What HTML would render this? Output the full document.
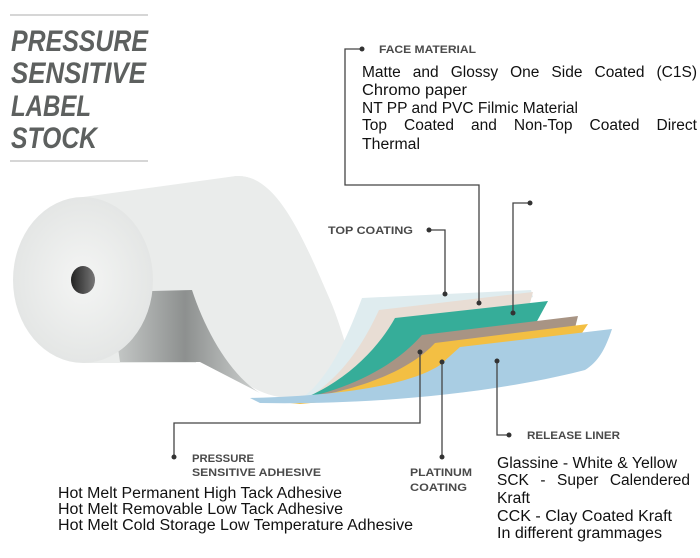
<!DOCTYPE html>
<html><head><meta charset="utf-8"><style>
html,body{margin:0;padding:0;background:#fff;}
body{position:relative;width:700px;height:558px;overflow:hidden;}
svg{display:block;position:absolute;left:0;top:0;}
text{font-family:"Liberation Sans",sans-serif;}
.t{font-size:30px;font-weight:bold;font-style:italic;fill:#5d605f;}
.l{font-size:11px;font-weight:bold;fill:#4a4a4a;}
.b{font-size:15.5px;fill:#111;}
.j{position:absolute;font-family:"Liberation Sans",sans-serif;font-size:15.5px;color:#111;text-align:justify;text-align-last:justify;white-space:nowrap;line-height:18px;}
</style></head><body>
<svg width="700" height="558" viewBox="0 0 700 558" xmlns="http://www.w3.org/2000/svg">
<defs>
<linearGradient id="sh" x1="0" y1="0" x2="1" y2="0">
<stop offset="0" stop-color="#c9cccb"/><stop offset="0.5" stop-color="#8d908f"/><stop offset="1" stop-color="#cfd2d1"/></linearGradient>
<radialGradient id="face" cx="0.5" cy="0.5" r="0.5">
<stop offset="0" stop-color="#f4f5f4"/><stop offset="1" stop-color="#e4e6e5"/></radialGradient>
<linearGradient id="hole" x1="0" y1="0" x2="1" y2="0"><stop offset="0" stop-color="#222"/><stop offset="1" stop-color="#777"/></linearGradient>
</defs>
<line x1="10" y1="15" x2="148" y2="15" stroke="#c8c8c8" stroke-width="1.5"/>
<line x1="10" y1="161" x2="148" y2="161" stroke="#c8c8c8" stroke-width="1.5"/>
<text class="t" x="11" y="51" textLength="137" lengthAdjust="spacingAndGlyphs">PRESSURE</text>
<text class="t" x="11" y="83" textLength="135" lengthAdjust="spacingAndGlyphs">SENSITIVE</text>
<text class="t" x="11" y="116" textLength="80" lengthAdjust="spacingAndGlyphs">LABEL</text>
<text class="t" x="11" y="148" textLength="86" lengthAdjust="spacingAndGlyphs">STOCK</text>
<!-- roll -->
<path d="M83,197 L236,176 C275,174 300,230 330,300 C345,335 350,370 362,390 L300,398 C260,400 230,380 200,330 L196,363 L83,363 Z" fill="#eaeceb"/>
<path d="M110,292 L192,290 C205,330 230,375 260,393 L200,362 L120,362 Z" fill="url(#sh)"/>
<path d="M236,176 C275,174 300,230 330,300 C345,335 352,375 366,392 L300,399 C262,400 235,372 212,322 C195,285 185,240 170,190 Z" fill="#eaeceb"/>
<ellipse cx="83" cy="280" rx="70" ry="83" fill="url(#face)"/>
<ellipse cx="83" cy="280" rx="12" ry="14" fill="url(#hole)"/>
<!-- layers -->
<path d="M362,298 L531,290 L533,297 C470,320 380,370 340,398 L300,399 C330,380 350,330 362,298 Z" fill="#dfecef"/>
<path d="M379,310 L533,292 L529,307 C460,330 380,375 330,399 L305,400 C345,375 365,340 379,310 Z" fill="#e8ddd4"/>
<path d="M395,318 L548,301 L536,323 C470,345 390,385 330,400 L300,400 C350,380 380,345 395,318 Z" fill="#36ad99"/>
<path d="M422,335 L578,316 L575,328 C500,350 420,388 320,402 L290,401 C360,388 400,360 422,335 Z" fill="#a89484"/>
<path d="M435,343 L588,324 L580,336 C500,360 420,395 300,404 L280,402 C360,392 410,370 435,343 Z" fill="#f3bf43"/>
<path d="M460,347 L612,329 C605,350 598,362 585,370 C500,392 380,405 260,403 L250,398 C340,396 410,385 440,365 Z" fill="#a9cde3"/>
<g stroke="#444" stroke-width="1.3" fill="none">
<polyline points="429,230 445,230 445,294"/>
<polyline points="362,49 345,49 345,185 479,185 479,303"/>
<polyline points="530,203 513,203 513,313"/>
<polyline points="420,352 420,423 174,423 174,457"/>
<polyline points="442,362 442,457"/>
<polyline points="497,361 497,435 509,435"/>
</g>
<g fill="#333">
<circle cx="429" cy="230" r="2.5"/><circle cx="445" cy="294" r="2.5"/>
<circle cx="362" cy="49" r="2.5"/><circle cx="479" cy="303" r="2.5"/>
<circle cx="530" cy="203" r="2.5"/><circle cx="513" cy="313" r="2.5"/>
<circle cx="420" cy="352" r="2.5"/><circle cx="174" cy="457" r="2.5"/>
<circle cx="442" cy="362" r="2.5"/><circle cx="442" cy="457" r="2.5"/>
<circle cx="497" cy="361" r="2.5"/><circle cx="509" cy="435" r="2.5"/>
</g>
<text class="l" x="328" y="234" textLength="85" lengthAdjust="spacingAndGlyphs">TOP COATING</text>
<text class="l" x="379" y="53" textLength="97" lengthAdjust="spacingAndGlyphs">FACE MATERIAL</text>
<text class="l" x="527" y="439" textLength="93" lengthAdjust="spacingAndGlyphs">RELEASE LINER</text>
<text class="l" x="192" y="462" textLength="62" lengthAdjust="spacingAndGlyphs">PRESSURE</text>
<text class="l" x="192" y="476" textLength="129" lengthAdjust="spacingAndGlyphs">SENSITIVE ADHESIVE</text>
<text class="l" x="410" y="476" textLength="62" lengthAdjust="spacingAndGlyphs">PLATINUM</text>
<text class="l" x="410" y="491" textLength="57" lengthAdjust="spacingAndGlyphs">COATING</text>
<text class="b" x="362" y="95" textLength="105" lengthAdjust="spacingAndGlyphs">Chromo paper</text>
<text class="b" x="362" y="113" textLength="216" lengthAdjust="spacingAndGlyphs">NT PP and PVC Filmic Material</text>
<text class="b" x="362" y="149" textLength="58" lengthAdjust="spacingAndGlyphs">Thermal</text>
<text class="b" x="58" y="498" textLength="284" lengthAdjust="spacingAndGlyphs">Hot Melt Permanent High Tack Adhesive</text>
<text class="b" x="58" y="514" textLength="285" lengthAdjust="spacingAndGlyphs">Hot Melt Removable Low Tack Adhesive</text>
<text class="b" x="58" y="530" textLength="355" lengthAdjust="spacingAndGlyphs">Hot Melt Cold Storage Low Temperature Adhesive</text>
<text class="b" x="497" y="468" textLength="180" lengthAdjust="spacingAndGlyphs">Glassine - White &amp; Yellow</text>
<text class="b" x="497" y="503" textLength="33" lengthAdjust="spacingAndGlyphs">Kraft</text>
<text class="b" x="497" y="521" textLength="175" lengthAdjust="spacingAndGlyphs">CCK - Clay Coated Kraft</text>
<text class="b" x="497" y="538" textLength="165" lengthAdjust="spacingAndGlyphs">In different grammages</text>
</svg>
<div class="j" style="left:362px;top:64px;width:335px;">Matte and Glossy One Side Coated (C1S)</div>
<div class="j" style="left:362px;top:117px;width:335px;">Top Coated and Non-Top Coated Direct</div>
<div class="j" style="left:497px;top:472px;width:193px;">SCK - Super Calendered</div>
</body></html>
